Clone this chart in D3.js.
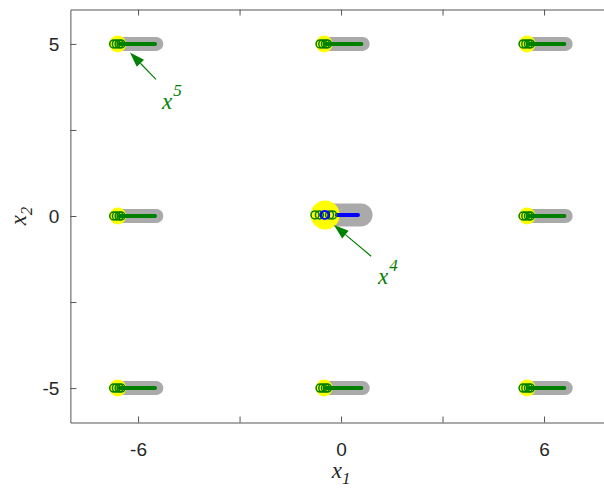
<!DOCTYPE html>
<html lang="en">
<head>
  <meta charset="UTF-8">
  <title>x1 x2 iterates</title>
  <script src="https://d3js.org/d3.v7.min.js"></script>
  <style>
    body { margin: 0; background: white; }
    .math { font-family: "Liberation Serif", "Times New Roman", serif; font-style: italic; }
  </style>
</head>
<body>
  <svg id="chart" width="604" height="489"></svg>

  <script>
    // grid of starting points
    const colX = [-6.6, -0.5, 5.5];
    const rowY = [5, 0, -5];

    // small points: offsets from each start (x units)
    const greyTrail = [0, 1.14];
    const greenTrail = [0.05, 1.1];
    const greenRings = [-0.12, -0.04, 0.04, 0.1];

    // centre point
    const centre = { x: -0.47, y: 0.03 };
    const centreGrey = [-0.56, 0.59];
    const centreBlue = [-0.12, 0.5];
    const centreGreenRings = [-0.77, -0.64, -0.34, -0.25];
    const centreBlueRings = [-0.5, -0.46];

    // annotations
    const notes = [
      { tip: [-6.24, 4.75], tail: [-5.47, 3.97], label: [-5.29, 3.12], sup: "5" },
      { tip: [-0.21, -0.26], tail: [0.89, -1.17], label: [1.09, -1.98], sup: "4" }
    ];

    const xTicks = [-6, -3, 0, 3, 6];
    const yTicks = [-5, -2.5, 0, 2.5, 5];
    const xLabels = [-6, 0, 6];
    const yLabels = [-5, 0, 5];

    const svg = d3.select("#chart");
    const margin = { top: 9.5, left: 70.4 };
    const plotW = 541.3, plotH = 413;

    const x = d3.scaleLinear().domain([-8, 8]).range([margin.left, margin.left + plotW]);
    const y = d3.scaleLinear().domain([-6, 6]).range([margin.top + plotH, margin.top]);

    const green = "#008000";
    const grey = "#aaaaaa";

    const defs = svg.append("defs");
    const clip = defs.append("clipPath").attr("id", "clip");
    clip.append("rect").attr("x", margin.left).attr("y", margin.top).attr("width", plotW).attr("height", plotH);

    const g = svg.append("g").attr("clip-path", "url(#clip)");

    // points list
    const pts = [];
    rowY.forEach(yy => colX.forEach(xx => {
      if (!(xx === colX[1] && yy === rowY[1])) pts.push({ x: xx, y: yy });
    }));

    // grey trails
    g.selectAll(".grey").data(pts).join("line")
      .attr("x1", d => x(d.x + greyTrail[0])).attr("x2", d => x(d.x + greyTrail[1]))
      .attr("y1", d => y(d.y)).attr("y2", d => y(d.y))
      .attr("stroke", grey).attr("stroke-width", 14).attr("stroke-linecap", "round");
    g.append("line")
      .attr("x1", x(centreGrey[0])).attr("x2", x(centreGrey[1]))
      .attr("y1", y(centre.y)).attr("y2", y(centre.y))
      .attr("stroke", grey).attr("stroke-width", 23).attr("stroke-linecap", "round");

    // yellow starts
    g.selectAll(".yel").data(pts).join("circle")
      .attr("cx", d => x(d.x)).attr("cy", d => y(d.y)).attr("r", 8.5)
      .attr("fill", "#ffff00");
    g.append("circle").attr("cx", x(centre.x)).attr("cy", y(centre.y)).attr("r", 14.5).attr("fill", "#ffff00");

    // green paths
    g.selectAll(".gl").data(pts).join("line")
      .attr("x1", d => x(d.x + greenTrail[0])).attr("x2", d => x(d.x + greenTrail[1]))
      .attr("y1", d => y(d.y)).attr("y2", d => y(d.y))
      .attr("stroke", green).attr("stroke-width", 4).attr("stroke-linecap", "round");

    pts.forEach(p => {
      g.selectAll(null).data(greenRings).join("circle")
        .attr("cx", d => x(p.x + d)).attr("cy", y(p.y)).attr("r", 4)
        .attr("fill", "none").attr("stroke", green).attr("stroke-width", 1.5);
    });

    // centre: blue path and rings
    g.append("line")
      .attr("x1", x(centreBlue[0])).attr("x2", x(centreBlue[1]))
      .attr("y1", y(centre.y)).attr("y2", y(centre.y))
      .attr("stroke", "#0000ff").attr("stroke-width", 4).attr("stroke-linecap", "round");
    g.selectAll(".cg").data(centreGreenRings).join("circle")
      .attr("cx", d => x(d)).attr("cy", y(centre.y)).attr("r", 4)
      .attr("fill", "none").attr("stroke", green).attr("stroke-width", 1.5);
    g.selectAll(".cb").data(centreBlueRings).join("circle")
      .attr("cx", d => x(d)).attr("cy", y(centre.y)).attr("r", 4)
      .attr("fill", "none").attr("stroke", "#0000ff").attr("stroke-width", 1.5);

    // arrows
    notes.forEach(n => {
      const tx = x(n.tip[0]), ty = y(n.tip[1]);
      const sx = x(n.tail[0]), sy = y(n.tail[1]);
      const ang = Math.atan2(ty - sy, tx - sx);
      const L = 15, W = 5;
      const bx = tx - L * Math.cos(ang), by = ty - L * Math.sin(ang);
      svg.append("line").attr("x1", sx).attr("y1", sy).attr("x2", bx).attr("y2", by)
        .attr("stroke", green).attr("stroke-width", 1.2);
      const pts3 = [
        [tx, ty],
        [bx + W * Math.sin(ang), by - W * Math.cos(ang)],
        [bx - W * Math.sin(ang), by + W * Math.cos(ang)]
      ];
      svg.append("polygon").attr("points", pts3.map(p => p.join(",")).join(" ")).attr("fill", green);
      const t = svg.append("text").attr("class", "math")
        .attr("x", x(n.label[0])).attr("y", y(n.label[1]))
        .attr("fill", green).attr("font-size", 23);
      t.append("tspan").text("x");
      t.append("tspan").attr("dy", -13).attr("dx", 1).attr("font-size", 17).text(n.sup);
    });

    // axes
    const axCol = "#555";
    const xAxis = svg.append("g").attr("transform", `translate(0,${margin.top + plotH})`)
      .call(d3.axisBottom(x).tickValues(xTicks).tickSizeInner(-6).tickSizeOuter(0)
        .tickFormat(d => xLabels.includes(d) ? d : ""));
    xAxis.selectAll("text").attr("dy", "1.15em").attr("y", 12);
    const xTop = svg.append("g").attr("transform", `translate(0,${margin.top})`)
      .call(d3.axisTop(x).tickValues(xTicks).tickSizeInner(-6).tickSizeOuter(0).tickFormat(""));
    const yAxis = svg.append("g").attr("transform", `translate(${margin.left},0)`)
      .call(d3.axisLeft(y).tickValues(yTicks).tickSizeInner(-6).tickSizeOuter(0)
        .tickFormat(d => yLabels.includes(d) ? d : ""));
    yAxis.selectAll("text").attr("x", -11);
    [xAxis, xTop, yAxis].forEach(a => {
      a.attr("font-family", "'Liberation Sans', Arial, sans-serif").attr("font-size", 19);
      a.selectAll("text").attr("fill", "#262626");
      a.select(".domain").attr("stroke", axCol);
      a.selectAll(".tick line").attr("stroke", axCol);
    });

    // axis titles
    const xt = svg.append("text").attr("class", "math")
      .attr("x", x(0)).attr("y", 478).attr("text-anchor", "middle")
      .attr("font-size", 23).attr("fill", "#262626");
    xt.append("tspan").text("x");
    xt.append("tspan").attr("dy", 6).attr("font-size", 17).text("1");

    const yt = svg.append("text").attr("class", "math")
      .attr("transform", `translate(26,${y(0)}) rotate(-90)`).attr("text-anchor", "middle")
      .attr("font-size", 23).attr("fill", "#262626");
    yt.append("tspan").text("x");
    yt.append("tspan").attr("dy", 6).attr("font-size", 17).text("2");
  </script>
</body>
</html>
